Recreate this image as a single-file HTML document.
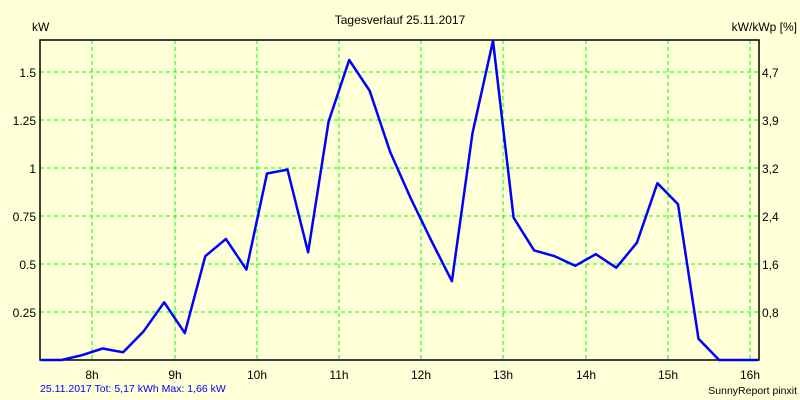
<!DOCTYPE html>
<html><head><meta charset="utf-8"><style>
body{margin:0;background:#ffffd8;}
svg{display:block;font-family:"Liberation Sans",sans-serif;}
</style></head><body>
<svg id="chart" width="800" height="400">
<rect width="800" height="400" fill="#ffffd8"/>
<text x="400" y="24" font-size="12" text-anchor="middle">Tagesverlauf 25.11.2017</text>
<text x="32" y="31" font-size="12">kW</text>
<text x="797" y="31" font-size="12" text-anchor="end">kW/kWp [%]</text>
<g id="grid" shape-rendering="crispEdges"></g>
<g id="axes"></g>
<path id="line" fill="none" stroke="#0000ff" stroke-width="2.5" stroke-linejoin="round"/>
<text x="40" y="392" font-size="10.5" fill="#0000ff">25.11.2017 Tot: 5,17 kWh Max: 1,66 kW</text>
<text x="797" y="394" font-size="10.5" text-anchor="end">SunnyReport pinxit</text>
</svg>
<script>
const times=[7.37,7.625,7.875,8.125,8.375,8.625,8.875,9.125,9.375,9.625,9.875,10.125,10.375,10.625,10.875,11.125,11.375,11.625,11.875,12.125,12.375,12.625,12.875,13.125,13.375,13.625,13.875,14.125,14.375,14.625,14.875,15.125,15.375,15.625,16.1];
const values=[0,0,0.025,0.06,0.04,0.15,0.30,0.14,0.54,0.63,0.47,0.97,0.99,0.56,1.24,1.56,1.40,1.08,0.84,0.62,0.41,1.18,1.66,0.74,0.57,0.54,0.49,0.55,0.48,0.61,0.92,0.81,0.11,0,0];
const yTicks=[0.25,0.5,0.75,1,1.25,1.5];
const yTickLabels=["0.25","0.5","0.75","1","1.25","1.5"];
const rightTickLabels=["0,8","1,6","2,4","3,2","3,9","4,7"];
const hours=[8,9,10,11,12,13,14,15,16];
const L=40,R=759,T=40,B=360;
const xs=t=>92.3+(t-8)*82.2;
const ys=v=>B-v*192.3;
const ns="http://www.w3.org/2000/svg";
const grid=document.getElementById('grid'),axes=document.getElementById('axes');
function mk(tag,attrs,parent){const e=document.createElementNS(ns,tag);for(const k in attrs)e.setAttribute(k,attrs[k]);parent.appendChild(e);return e;}
yTicks.forEach((v,i)=>{
 const y=Math.round(ys(v));
 const g=mk('line',{x1:L,x2:R,y1:y,y2:y,stroke:'#00ff00','stroke-dasharray':'4,3'},grid);
 
 
 const t=mk('text',{x:L-4,y:y+5,'font-size':12,'text-anchor':'end'},axes);t.textContent=yTickLabels[i];
 
 
 const r=mk('text',{x:R+3,y:y+5,'font-size':12},axes);r.textContent=rightTickLabels[i];
 
 
});
hours.forEach(h=>{
 const x=Math.round(xs(h));
 const g=mk('line',{x1:x,x2:x,y1:T,y2:B,stroke:'#00ff00','stroke-dasharray':'4,3'},grid);
 
 
 const t=mk('text',{x:x,y:B+19,'font-size':12,'text-anchor':'middle'},axes);t.textContent=h+'h';
 
 
});
const f=mk('path',{d:`M${L},${T}H${R}V${B}H${L}Z`,fill:'none',stroke:'#000','stroke-width':1.5},axes);


document.getElementById('line').setAttribute('d',times.map((t,i)=>(i?'L':'M')+xs(t).toFixed(1)+','+ys(values[i]).toFixed(1)).join(''));
</script>
</body></html>
